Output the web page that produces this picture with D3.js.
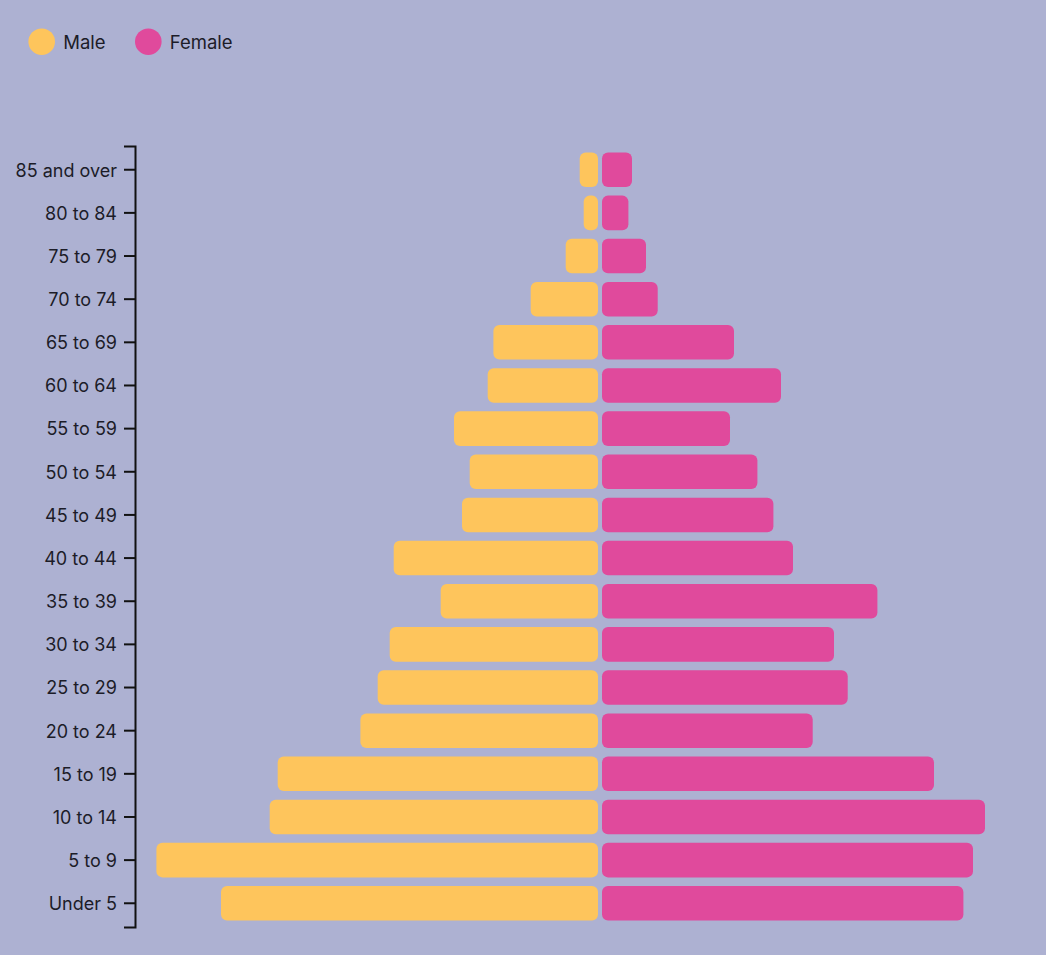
<!DOCTYPE html>
<html>
<head>
<meta charset="utf-8">
<script src="https://cdn.jsdelivr.net/npm/d3@7"></script>
<style>
  html, body { margin: 0; padding: 0; background: #adb1d2; }
  svg { display: block; font-family: Inter, "Noto Sans", sans-serif; }
</style>
</head>
<body>
<svg id="chart" width="1046" height="955"></svg>
<script>
// Age groups, top to bottom
const ageGroups = ["85 and over", "80 to 84", "75 to 79", "70 to 74", "65 to 69", "60 to 64",
    "55 to 59", "50 to 54", "45 to 49", "40 to 44", "35 to 39", "30 to 34",
    "25 to 29", "20 to 24", "15 to 19", "10 to 14", "5 to 9", "Under 5"];

// Population per group
const male = [183, 143, 323, 673, 1046, 1103, 1440, 1283, 1360, 2043, 1573, 2083,
    2203, 2376, 3203, 3283, 4416, 3770];
const female = [300, 264, 440, 557, 1320, 1790, 1280, 1554, 1714, 1910, 2754, 2320,
    2457, 2107, 3320, 3830, 3710, 3614];

const seriesNames = ["Male", "Female"];
const colors = ["#fec55c", "#e04a9c"];

const width = 1046;
const height = 955;
const centerX = 600;
const gap = 2;

const svg = d3.select("#chart");

// Scales
const yScale = d3.scaleBand()
    .domain(ageGroups)
    .range([146, 927])
    .paddingInner(0.2)
    .paddingOuter(0.15);

const xScale = d3.scaleLinear()
    .domain([0, d3.max(male.concat(female))])
    .range([0, 441.6]);

// Male bars grow to the left
svg.append("g")
    .selectAll("rect")
    .data(male)
    .join("rect")
    .attr("x", d => centerX - gap - xScale(d))
    .attr("y", (d, i) => yScale(ageGroups[i]))
    .attr("width", d => xScale(d))
    .attr("height", yScale.bandwidth())
    .attr("rx", 6)
    .attr("fill", colors[0]);

// Female bars grow to the right
svg.append("g")
    .selectAll("rect")
    .data(female)
    .join("rect")
    .attr("x", centerX + gap)
    .attr("y", (d, i) => yScale(ageGroups[i]))
    .attr("width", d => xScale(d))
    .attr("height", yScale.bandwidth())
    .attr("rx", 6)
    .attr("fill", colors[1]);

// Y axis
const yAxis = svg.append("g")
    .attr("transform", "translate(135,0)")
    .call(d3.axisLeft(yScale).tickSize(11).tickPadding(7));

yAxis.selectAll("path, line")
    .attr("stroke", "#111")
    .attr("stroke-width", 2);

yAxis.selectAll("text")
    .attr("fill", "#1c1c28")
    .attr("dy", "0.38em")
    .style("font-size", "18px")
    .style("font-family", "Inter, 'Noto Sans', sans-serif");

// Legend
const legend = svg.append("g")
    .selectAll("g")
    .data(seriesNames)
    .join("g")
    .attr("transform", (d, i) => `translate(${41.7 + i * 106.6},41.7)`);

legend.append("circle")
    .attr("r", 13.3)
    .attr("fill", (d, i) => colors[i]);

legend.append("text")
    .attr("x", 21.5)
    .attr("dy", "0.38em")
    .attr("fill", "#1c1c28")
    .style("font-size", "18.5px")
    .text(d => d);
</script>
</body>
</html>
